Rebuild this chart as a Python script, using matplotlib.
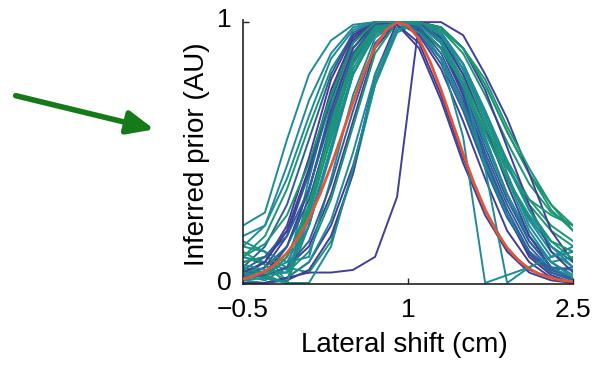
import matplotlib
matplotlib.use("Agg")
import matplotlib.pyplot as plt
import matplotlib.transforms as mtransforms

plt.rcParams['font.family'] = ['Liberation Sans', 'DejaVu Sans']

# sample positions of the individual inferred priors (cm)
x_samples = [-0.5, -0.3, -0.1, 0.1, 0.3, 0.5, 0.7, 0.9, 1.1, 1.3, 1.5, 1.7, 1.9, 2.1, 2.3, 2.5]

P, B, T, G = "#403f95", "#2f5f9a", "#1f8a98", "#1b9672"

priors = [
    ("c1",  T, [0.22, 0.27, 0.55, 0.80, 0.93, 0.99, 1.00, 1.00, 0.98, 0.90, 0.74, 0.54, 0.34, 0.18, 0.08, 0.03]),
    ("c2",  T, [0.14, 0.22, 0.45, 0.70, 0.88, 0.98, 1.00, 1.00, 0.96, 0.86, 0.68, 0.46, 0.26, 0.12, 0.05, 0.02]),
    ("c3",  G, [0.10, 0.18, 0.36, 0.60, 0.82, 0.95, 1.00, 1.00, 0.98, 0.90, 0.76, 0.58, 0.40, 0.25, 0.14, 0.08]),
    ("c4",  P, [0.03, 0.08, 0.22, 0.48, 0.78, 0.95, 1.00, 0.99, 0.90, 0.70, 0.46, 0.26, 0.12, 0.04, 0.01, 0.00]),
    ("c5",  B, [0.06, 0.14, 0.30, 0.55, 0.80, 0.96, 1.00, 1.00, 0.96, 0.84, 0.66, 0.44, 0.25, 0.12, 0.05, 0.02]),
    ("c6",  T, [0.10, 0.08, 0.05, 0.40, 0.72, 0.92, 1.00, 1.00, 0.98, 0.90, 0.76, 0.58, 0.40, 0.25, 0.14, 0.08]),
    ("c7",  G, [0.16, 0.12, 0.00, 0.35, 0.68, 0.90, 0.99, 1.00, 0.99, 0.94, 0.82, 0.64, 0.45, 0.30, 0.20, 0.14]),
    ("c8",  P, [0.02, 0.06, 0.18, 0.42, 0.72, 0.93, 1.00, 1.00, 0.95, 0.82, 0.62, 0.40, 0.20, 0.08, 0.02, 0.00]),
    ("c9",  T, [0.05, 0.02, 0.00, 0.30, 0.62, 0.88, 0.99, 1.00, 0.99, 0.92, 0.76, 0.55, 0.34, 0.18, 0.08, 0.10]),
    ("c10", G, [0.04, 0.02, 0.14, 0.36, 0.64, 0.87, 0.98, 1.00, 1.00, 0.95, 0.84, 0.66, 0.47, 0.32, 0.22, 0.16]),
    ("c11", P, [0.01, 0.04, 0.14, 0.36, 0.66, 0.90, 1.00, 1.00, 0.97, 0.86, 0.68, 0.46, 0.26, 0.11, 0.04, 0.01]),
    ("c12", B, [0.08, 0.10, 0.20, 0.42, 0.70, 0.92, 1.00, 1.00, 0.97, 0.86, 0.68, 0.46, 0.26, 0.12, 0.05, 0.06]),
    ("c13", T, [0.10, 0.07, 0.00, 0.26, 0.56, 0.84, 0.97, 1.00, 1.00, 0.94, 0.80, 0.60, 0.40, 0.24, 0.12, 0.06]),
    ("c14", G, [0.05, 0.02, 0.10, 0.28, 0.55, 0.80, 0.95, 1.00, 1.00, 0.97, 0.88, 0.72, 0.54, 0.38, 0.27, 0.22]),
    ("c15", P, [0.02, 0.03, 0.06, 0.14, 0.34, 0.62, 0.90, 1.00, 1.00, 0.94, 0.80, 0.60, 0.38, 0.18, 0.06, 0.01]),
    ("c16", T, [0.06, 0.04, 0.08, 0.24, 0.52, 0.80, 0.96, 1.00, 1.00, 0.96, 0.84, 0.64, 0.42, 0.22, 0.10, 0.12]),
    ("c17", G, [0.02, 0.03, 0.04, 0.12, 0.32, 0.60, 0.88, 1.00, 1.00, 0.98, 0.90, 0.76, 0.58, 0.42, 0.30, 0.22]),
    ("c18", B, [0.03, 0.06, 0.14, 0.32, 0.60, 0.85, 0.98, 1.00, 0.98, 0.90, 0.72, 0.50, 0.30, 0.14, 0.05, 0.02]),
    ("c19", P, [0.00, 0.00, 0.02, 0.08, 0.22, 0.45, 0.76, 0.97, 1.00, 0.98, 0.90, 0.74, 0.52, 0.30, 0.12, 0.04]),
    ("c20", T, [0.14, 0.12, 0.08, 0.10, 0.40, 0.72, 0.94, 1.00, 1.00, 0.93, 0.78, 0.56, 0.34, 0.16, 0.06, 0.02]),
    ("c21", G, [0.08, 0.10, 0.06, 0.04, 0.16, 0.42, 0.76, 0.96, 1.00, 0.98, 0.90, 0.76, 0.58, 0.42, 0.28, 0.20]),
    ("c22", T, [0.03, 0.01, 0.06, 0.22, 0.50, 0.80, 0.96, 1.00, 0.98, 0.86, 0.56, 0.00, 0.03, 0.06, 0.10, 0.14]),
    ("c23", P, [0.00, 0.00, 0.01, 0.05, 0.18, 0.42, 0.80, 1.00, 1.00, 1.00, 0.95, 0.80, 0.63, 0.42, 0.20, 0.08]),
    ("c24", B, [0.05, 0.10, 0.18, 0.36, 0.64, 0.88, 0.99, 1.00, 0.98, 0.90, 0.74, 0.52, 0.32, 0.16, 0.06, 0.05]),
    ("c25", G, [0.12, 0.07, 0.00, 0.22, 0.52, 0.80, 0.96, 1.00, 1.00, 0.95, 0.82, 0.64, 0.45, 0.28, 0.16, 0.09]),
    ("c26", T, [0.01, 0.00, 0.02, 0.08, 0.24, 0.50, 0.80, 0.98, 1.00, 0.95, 0.82, 0.62, 0.40, 0.20, 0.08, 0.02]),
    ("c27", P, [0.00, 0.00, 0.02, 0.04, 0.04, 0.05, 0.10, 0.33, 1.00, 0.92, 0.72, 0.48, 0.26, 0.10, 0.03, 0.00]),
    ("c28", G, [0.06, 0.03, 0.00, 0.28, 0.60, 0.86, 0.98, 1.00, 0.99, 0.92, 0.78, 0.60, 0.44, 0.32, 0.26, 0.22]),
    ("c29", T, [0.18, 0.22, 0.40, 0.64, 0.86, 0.97, 1.00, 1.00, 0.96, 0.86, 0.68, 0.46, 0.26, 0.12, 0.04, 0.01]),
    ("c30", P, [0.04, 0.08, 0.20, 0.44, 0.74, 0.94, 1.00, 0.99, 0.92, 0.72, 0.48, 0.28, 0.13, 0.05, 0.02, 0.00]),
    ("c31", G, [0.10, 0.15, 0.26, 0.46, 0.72, 0.92, 1.00, 1.00, 0.98, 0.90, 0.76, 0.58, 0.40, 0.26, 0.16, 0.12]),
    ("c32", T, [0.04, 0.02, 0.00, 0.00, 0.14, 0.44, 0.78, 0.97, 1.00, 0.96, 0.84, 0.66, 0.46, 0.28, 0.14, 0.06]),
    ("c33", B, [0.02, 0.03, 0.06, 0.16, 0.38, 0.66, 0.92, 1.00, 0.98, 0.88, 0.70, 0.48, 0.28, 0.12, 0.04, 0.01]),
    ("c34", G, [0.01, 0.02, 0.10, 0.30, 0.58, 0.84, 0.97, 1.00, 1.00, 0.97, 0.90, 0.78, 0.60, 0.44, 0.30, 0.20]),
    ("c35", T, [0.07, 0.05, 0.04, 0.22, 0.52, 0.82, 0.97, 1.00, 0.99, 0.92, 0.76, 0.44, 0.00, 0.06, 0.10, 0.12]),
]

# true (generative) prior, red
true_x = [-0.5, -0.4, -0.3, -0.2, -0.1, 0.0, 0.1, 0.2, 0.3, 0.4, 0.5, 0.6, 0.7, 0.8, 0.9, 1.0,
          1.1, 1.2, 1.3, 1.4, 1.5, 1.6, 1.7, 1.8, 1.9, 2.0, 2.1, 2.2, 2.3, 2.4, 2.5]
true_y = [0.015, 0.027, 0.045, 0.073, 0.115, 0.172, 0.247, 0.340, 0.449, 0.569, 0.693, 0.808,
          0.904, 0.970, 0.999, 0.987, 0.935, 0.849, 0.740, 0.619, 0.496, 0.382, 0.282, 0.199,
          0.135, 0.088, 0.055, 0.033, 0.019, 0.010, 0.0055]

x_ticks = [-0.5, 1, 2.5]
x_ticklabels = ["\u22120.5", "1", "2.5"]
y_ticks = [0, 1]
y_ticklabels = ["0", "1"]

fig = plt.figure(figsize=(5.94, 3.82), dpi=100)
ax = fig.add_axes([0.409, 0.2565, 0.556, 0.691])

for name, col, vals in priors:
    ax.plot(x_samples, vals, color=col, lw=1.4, solid_joinstyle='miter')
ax.plot(true_x, true_y, color="#e2553b", lw=2.0, zorder=5)

ax.set_xlim(-0.5, 2.5)
ax.set_ylim(-0.004, 1.008)
ax.set_xticks(x_ticks)
ax.set_xticklabels(x_ticklabels)
ax.set_yticks(y_ticks)
ax.set_yticklabels(y_ticklabels)
ax.tick_params(direction='in', length=4, width=1, labelsize=19, color='#222222')
ax.tick_params(axis='x', pad=10)
ax.tick_params(axis='y', pad=8)
for s in ['top', 'right']:
    ax.spines[s].set_visible(False)
for s in ['left', 'bottom']:
    ax.spines[s].set_linewidth(1.2)
    ax.spines[s].set_color('#222222')

# nudge the "1" y tick label slightly upward, as in the reference
ylabs = ax.get_yticklabels()
ylabs[1].set_transform(ylabs[1].get_transform() +
                       mtransforms.ScaledTranslation(0, 3 / 72, fig.dpi_scale_trans))
ylabs[0].set_transform(ylabs[0].get_transform() +
                       mtransforms.ScaledTranslation(0, 2 / 72, fig.dpi_scale_trans))

ax.set_xlabel("Lateral shift (cm)", fontsize=20)
ax.xaxis.set_label_coords(0.49, -0.18)
ax.set_ylabel("Inferred prior (AU)", fontsize=20)
ax.yaxis.set_label_coords(-0.10, 0.49)

ax.annotate("", xy=(157, 252), xycoords='figure pixels',
            xytext=(13, 287), textcoords='figure pixels',
            arrowprops=dict(arrowstyle='-|>,head_length=0.8,head_width=0.35',
                            mutation_scale=20, lw=4, color='#16791a'),
            annotation_clip=False)

fig.savefig("out.png", dpi=100)
